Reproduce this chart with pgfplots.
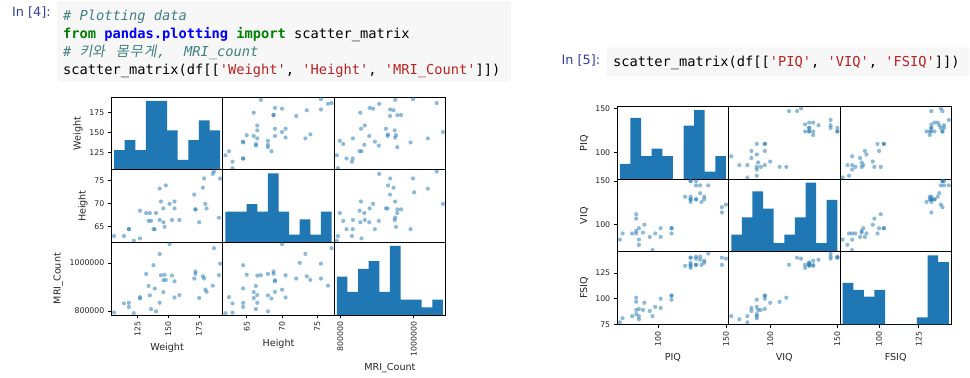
\documentclass[border=0pt]{standalone}
\usepackage{pgfplots}
\pgfplotsset{compat=1.18}
\usepackage{pgfplotstable}
\usepackage{fontspec}
\setmainfont{DejaVu Sans}
\setmonofont{DejaVu Sans Mono}
\newfontfamily\krfont[FakeSlant=0.18]{Noto Sans CJK KR}
\definecolor{mplblue}{HTML}{1F77B4}
\definecolor{cmcomment}{HTML}{408080}
\definecolor{cmkw}{HTML}{008000}
\definecolor{cmns}{HTML}{0000FF}
\definecolor{cmstr}{HTML}{BA2121}
\definecolor{prompt}{HTML}{303F9F}
\definecolor{cellbg}{HTML}{F7F7F7}

\pgfplotstableread{
FSIQ VIQ PIQ Weight Height MRI
133 132 124 118 64.5 816932
140 150 124 nan 72.5 1001121
139 123 150 143 73.3 1038437
133 129 128 172 68.8 965353
137 132 134 147 65.0 951545
99 90 110 146 69.0 928799
138 136 131 138 64.5 991305
92 90 98 175 66.0 854258
89 93 84 134 66.3 904858
133 114 147 172 68.8 955466
132 129 124 118 64.5 833868
141 150 128 151 70.0 1079549
135 129 124 155 69.0 924059
140 120 147 155 70.5 856472
96 100 90 146 66.0 878897
83 71 96 135 68.0 865363
132 132 120 127 68.5 852244
100 96 102 178 73.5 945088
101 112 84 136 66.3 808020
80 77 86 180 70.0 889083
83 83 86 nan nan 892420
97 107 84 186 76.5 905940
135 129 134 122 62.0 790619
139 145 128 132 68.0 955003
91 86 102 114 63.0 831772
141 145 131 171 72.0 935494
85 90 84 140 68.0 798612
103 96 110 187 77.0 1062462
77 83 72 106 63.0 793549
130 126 124 159 66.5 866662
133 126 132 127 62.5 857782
144 145 137 191 67.0 949589
103 96 110 192 75.5 997925
90 96 86 181 69.0 879987
83 90 81 143 66.5 834344
133 129 128 153 66.5 948066
140 150 124 144 70.5 949395
88 86 94 139 64.5 893983
81 90 74 148 74.0 930016
89 91 89 179 75.5 935863
}\braindata

\pgfplotstableread{
e n
106 2
114.6 3
123.2 2
131.8 7
140.4 7
149.0 4
157.6 1
166.2 3
174.8 5
183.4 4
192 4
}\hWeight
\pgfplotstableread{
e n
62 4
63.5 4
65 5
66.5 4
68 9
69.5 4
71 1
72.5 3
74 1
75.5 4
77 4
}\hHeight
\pgfplotstableread{
e n
790619 5
819512 3
848405 6
877298 7
906191 3
935084 9
963977 2
992870 2
1021763 1
1050656 2
1079549 2
}\hMRI
\pgfplotstableread{
e n
72 2
79.8 8
87.6 3
95.4 4
103.2 3
111 0
118.8 7
126.6 9
134.4 1
142.2 3
150 3
}\hPIQ
\pgfplotstableread{
e n
71 2
78.9 4
86.8 7
94.7 5
102.6 1
110.5 2
118.4 4
126.3 8
134.2 1
142.1 6
150 6
}\hVIQ
\pgfplotstableread{
e n
77 6
83.7 5
90.4 4
97.1 5
103.8 0
110.5 0
117.2 0
123.9 1
130.6 10
137.3 9
144 9
}\hFSIQ

\newcommand{\hg}[2]{\makebox[#1][l]{\krfont\fontsize{14bp}{14bp}\selectfont #2}}

\pgfplotsset{
  cell/.style={
    scale only axis, width=111.4bp, height=72.55bp, anchor=north west,
    axis line style={line width=0.8bp, black},
    major tick style={line width=0.8bp, black},
    major tick length=3.5bp, tick align=outside, tick pos=left,
    xtick=\empty, ytick=\empty,
    tick label style={font=\fontsize{7.8bp}{9bp}\selectfont, text=black!85},
    label style={font=\fontsize{9.6bp}{11bp}\selectfont, text=black!85},
    scaled ticks=false,
    /pgf/number format/assume math mode=true,
    clip marker paths=true,
    xticklabel style={rotate=90, anchor=east},
  },
  pts/.style={only marks, mark=*, mark size=2.1bp, color=mplblue,
    mark options={solid, line width=0pt, draw=mplblue, draw opacity=0, fill=mplblue, fill opacity=0.5}},
  bars/.style={ybar interval, fill=mplblue, draw=none},
  rWeight/.style={#1min=103.85, #1max=194.15},
  rHeight/.style={#1min=61.625, #1max=77.375},
  rMRI/.style={#1min=783395.75, #1max=1086772.25},
  rPIQ/.style={#1min=70.05, #1max=151.95},
  rVIQ/.style={#1min=69.025, #1max=151.975},
  rFSIQ/.style={#1min=75.325, #1max=145.675},
}

\begin{document}
\begin{tikzpicture}
\useasboundingbox (0,0) rectangle (970bp,-378bp);
\fill[white] (0,0) rectangle (970bp,-378bp);

% ---------- code cells ----------
\fill[cellbg, rounded corners=2bp] (57bp,-1bp) rectangle (511bp,-81.5bp);
\fill[cellbg, rounded corners=2bp] (606.7bp,-47.3bp) rectangle (969bp,-76bp);

\node[anchor=base west, inner sep=0, text=prompt, font=\fontsize{12.8bp}{14bp}\selectfont] at (12bp,-16.7bp) {In [4]:};
\node[anchor=base west, inner sep=0, text=prompt, font=\fontsize{12.8bp}{14bp}\selectfont] at (561.5bp,-64bp) {In [5]:};

\begin{scope}[every node/.style={anchor=base west, inner sep=0, font=\ttfamily\fontsize{13.7bp}{18bp}\selectfont}]
\node at (63bp,-20bp) {\itshape\color{cmcomment}\# Plotting data};
\node at (63bp,-38bp) {{\bfseries\color{cmkw}from} {\bfseries\color{cmns}pandas.plotting} {\bfseries\color{cmkw}import} scatter\_matrix};
\node at (63bp,-56bp) {\itshape\color{cmcomment}\#};
\node at (79.5bp,-56bp) {\color{cmcomment}\hg{12.5bp}{키}\hg{12.5bp}{와}};
\node at (116bp,-56bp) {\color{cmcomment}\hg{13.8bp}{몸}\hg{13.8bp}{무}\hg{13.8bp}{게}};
\node at (157bp,-56bp) {\itshape\color{cmcomment},};
\node at (184bp,-56bp) {\itshape\color{cmcomment}MRI\_count};
\node at (63bp,-74bp) {scatter\_matrix(df[[{\color{cmstr}'Weight'}, {\color{cmstr}'Height'}, {\color{cmstr}'MRI\_Count'}]])};
\node at (613bp,-66.5bp) {scatter\_matrix(df[[{\color{cmstr}'PIQ'}, {\color{cmstr}'VIQ'}, {\color{cmstr}'FSIQ'}]])};
\end{scope}

% ---------- left scatter matrix ----------
% row 0
\begin{axis}[cell, at={(111.4bp,-97.3bp)}, rWeight=x, ymin=0, ymax=7.35,
  ytick={1.7215,3.7564,5.7913}, yticklabels={125,150,175}, ylabel={Weight}]
\addplot[bars] table[x=e,y=n] {\hWeight};
\end{axis}
\begin{axis}[cell, at={(222.8bp,-97.3bp)}, rHeight=x, rWeight=y]
\addplot[pts] table[x=Height,y=Weight] {\braindata};
\end{axis}
\begin{axis}[cell, at={(334.2bp,-97.3bp)}, rMRI=x, rWeight=y]
\addplot[pts] table[x=MRI,y=Weight] {\braindata};
\end{axis}
% row 1
\begin{axis}[cell, at={(111.4bp,-169.85bp)}, rWeight=x, rHeight=y,
  ytick={65,70,75}, ylabel={Height}]
\addplot[pts] table[x=Weight,y=Height] {\braindata};
\end{axis}
\begin{axis}[cell, at={(222.8bp,-169.85bp)}, rHeight=x, ymin=0, ymax=9.45]
\addplot[bars] table[x=e,y=n] {\hHeight};
\end{axis}
\begin{axis}[cell, at={(334.2bp,-169.85bp)}, rMRI=x, rHeight=y]
\addplot[pts] table[x=MRI,y=Height] {\braindata};
\end{axis}
% row 2
\begin{axis}[cell, at={(111.4bp,-242.4bp)}, rWeight=x, rMRI=y,
  ytick={800000,1000000}, yticklabels={800000,1000000}, ylabel={MRI\_Count},
  xtick={125,150,175}, xlabel={Weight}]
\addplot[pts] table[x=Weight,y=MRI] {\braindata};
\end{axis}
\begin{axis}[cell, at={(222.8bp,-242.4bp)}, rHeight=x, rMRI=y,
  xtick={65,70,75}, xlabel={Height}]
\addplot[pts] table[x=Height,y=MRI] {\braindata};
\end{axis}
\begin{axis}[cell, at={(334.2bp,-242.4bp)}, rMRI=x, ymin=0, ymax=9.45,
  xtick={800000,1000000}, xticklabels={800000,1000000}, xlabel={MRI\_Count}]
\addplot[bars] table[x=e,y=n] {\hMRI};
\end{axis}

% ---------- right scatter matrix ----------
% row 0
\begin{axis}[cell, at={(617.2bp,-106.7bp)}, rPIQ=x, ymin=0, ymax=9.45,
  ytick={3.4558,9.2250}, yticklabels={100,150}, ylabel={PIQ}]
\addplot[bars] table[x=e,y=n] {\hPIQ};
\end{axis}
\begin{axis}[cell, at={(728.6bp,-106.7bp)}, rVIQ=x, rPIQ=y]
\addplot[pts] table[x=VIQ,y=PIQ] {\braindata};
\end{axis}
\begin{axis}[cell, at={(840bp,-106.7bp)}, rFSIQ=x, rPIQ=y]
\addplot[pts] table[x=FSIQ,y=PIQ] {\braindata};
\end{axis}
% row 1
\begin{axis}[cell, at={(617.2bp,-179.25bp)}, rPIQ=x, rVIQ=y,
  ytick={100,150}, ylabel={VIQ}]
\addplot[pts] table[x=PIQ,y=VIQ] {\braindata};
\end{axis}
\begin{axis}[cell, at={(728.6bp,-179.25bp)}, rVIQ=x, ymin=0, ymax=8.4]
\addplot[bars] table[x=e,y=n] {\hVIQ};
\end{axis}
\begin{axis}[cell, at={(840bp,-179.25bp)}, rFSIQ=x, rVIQ=y]
\addplot[pts] table[x=FSIQ,y=VIQ] {\braindata};
\end{axis}
% row 2
\begin{axis}[cell, at={(617.2bp,-251.8bp)}, rPIQ=x, rFSIQ=y, ymin=75,
  ytick={75,100,125}, ylabel={FSIQ}, xtick={100,150}, xlabel={PIQ}]
\addplot[pts] table[x=PIQ,y=FSIQ] {\braindata};
\end{axis}
\begin{axis}[cell, at={(728.6bp,-251.8bp)}, rVIQ=x, rFSIQ=y, ymin=75,
  xtick={100,150}, xlabel={VIQ}]
\addplot[pts] table[x=VIQ,y=FSIQ] {\braindata};
\end{axis}
\begin{axis}[cell, at={(840bp,-251.8bp)}, rFSIQ=x, ymin=0, ymax=10.5,
  xtick={100,125}, xlabel={FSIQ}]
\addplot[bars] table[x=e,y=n] {\hFSIQ};
\end{axis}
\end{tikzpicture}
\end{document}
